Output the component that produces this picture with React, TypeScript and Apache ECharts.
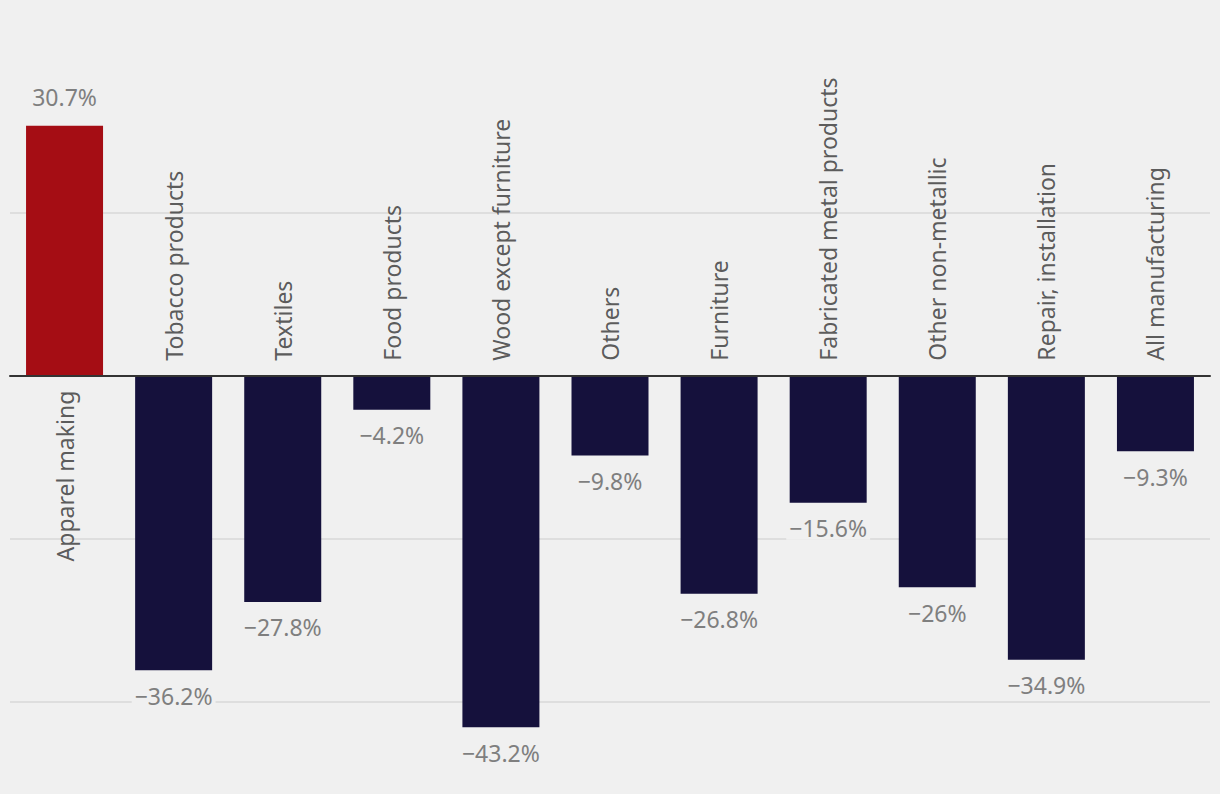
import React, { useEffect, useRef } from "react";
import * as echarts from "echarts";

const categories = [
  "Apparel making",
  "Tobacco products",
  "Textiles",
  "Food products",
  "Wood except furniture",
  "Others",
  "Furniture",
  "Fabricated metal products",
  "Other non-metallic",
  "Repair, installation",
  "All manufacturing",
];
const values = [30.7, -36.2, -27.8, -4.2, -43.2, -9.8, -26.8, -15.6, -26, -34.9, -9.3];
const gridValues = [20, -20, -40];

const RED = "#a50d14";
const NAVY = "#15113c";
const BG = "#f0f0f0";
const FONT = "'Noto Sans', sans-serif";

function fmt(v: number): string {
  return (v < 0 ? "\u2212" + Math.abs(v) : String(v)) + "%";
}

export default function App() {
  const ref = useRef<HTMLDivElement>(null);
  useEffect(() => {
    if (!ref.current) return;
    const chart = echarts.init(ref.current, null, { renderer: "svg" });
    chart.setOption({
      animation: false,
      backgroundColor: BG,
      grid: { left: 10, right: 10, top: 50, height: 692 },
      xAxis: {
        type: "category",
        data: categories,
        axisLabel: { show: false },
        axisTick: { show: false },
        axisLine: { onZero: true, lineStyle: { color: "#333", width: 2 } },
        z: 5,
      },
      yAxis: {
        type: "value",
        min: -45,
        max: 40,
        axisLabel: { show: false },
        axisLine: { show: false },
        axisTick: { show: false },
        splitLine: { show: false },
      },
      series: [
        {
          type: "line",
          data: [],
          z: 0,
          silent: true,
          markLine: {
            z: 0,
            silent: true,
            symbol: ["none", "none"],
            label: { show: false },
            lineStyle: { color: "#d9d9d9", width: 1.5, type: "solid" },
            data: gridValues.map((v) => ({ yAxis: v })),
          },
        },
        {
          type: "bar",
          z: 2,
          barWidth: 77,
          silent: true,
          data: values.map((v) => ({
            value: v,
            itemStyle: { color: v >= 0 ? RED : NAVY },
            label: {
              show: true,
              position: v >= 0 ? "top" : "bottom",
              distance: v >= 0 ? 17 : 14,
              formatter: () => fmt(v),
              color: "#7f7f7f",
              fontSize: 23,
              fontFamily: FONT,
              backgroundColor: BG,
              padding: [0, 3],
            },
          })),
        },
        {
          type: "scatter",
          z: 3,
          symbolSize: 0,
          silent: true,
          data: values.map((v, i) => ({
            value: 0,
            label: {
              show: true,
              formatter: categories[i],
              rotate: 90,
              position: v >= 0 ? "bottom" : "top",
              distance: 15,
              align: v >= 0 ? "right" : "left",
              verticalAlign: "middle",
              color: "#333",
              fontSize: 23,
              fontFamily: FONT,
            },
          })),
        },
      ],
    });
    return () => chart.dispose();
  }, []);
  return (
    <div
      ref={ref}
      style={{ position: "fixed", left: 0, top: 0, width: 1220, height: 794 }}
    />
  );
}
